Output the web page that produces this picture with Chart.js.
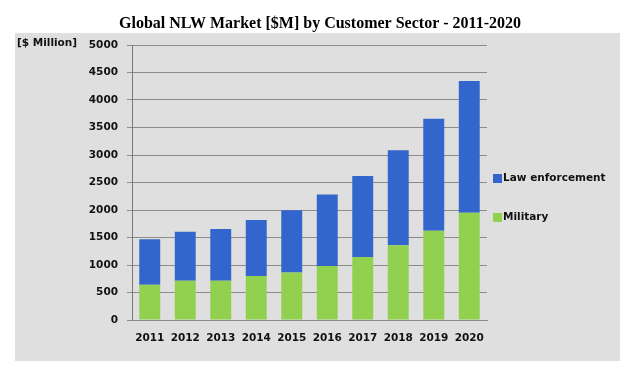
<!DOCTYPE html>
<html>
<head>
<meta charset="utf-8">
<title>Global NLW Market by Customer Sector</title>
<script src="https://cdn.jsdelivr.net/npm/chart.js@4.4.1/dist/chart.umd.min.js"></script>
<style>
  body { margin: 0; background: #fff; }
</style>
</head>
<body>
<canvas id="nlw_chart" width="640" height="374"></canvas>
<script>
const years = ['2011', '2012', '2013', '2014', '2015', '2016', '2017', '2018', '2019', '2020'];
const military = [640, 715, 715, 800, 865, 980, 1145, 1360, 1625, 1950];
const lawEnforcement = [830, 890, 940, 1020, 1130, 1300, 1475, 1725, 2035, 2395];
const yRange = [0, 5000];
const yStep = 500;
const chartTitle = 'Global NLW Market [$M] by Customer Sector - 2011-2020';

const tickFont = { family: '"DejaVu Sans"', size: 10.5, weight: 'bold' };

// grey background panel, page title and the unit label
const panel = {
  id: 'panel',
  beforeDraw(chart) {
    const c = chart.ctx;
    c.save();
    c.fillStyle = '#dfdfdf';
    c.fillRect(15, 33, 605, 328);
    c.fillStyle = '#000';
    c.textBaseline = 'middle';
    c.textAlign = 'center';
    c.font = 'bold 16px "Liberation Serif"';
    c.fillText(chartTitle, 320, 24);
    c.textAlign = 'left';
    c.fillStyle = '#111';
    c.font = 'bold 10.5px "DejaVu Sans"';
    c.fillText('[$ Million]', 17, 43);
    c.restore();
  }
};

// legend on the right, top series first
const sideLegend = {
  id: 'sideLegend',
  afterDraw(chart) {
    const c = chart.ctx;
    const items = chart.data.datasets.slice().reverse();
    c.save();
    c.font = 'bold 10.5px "DejaVu Sans"';
    c.textBaseline = 'middle';
    items.forEach((ds, i) => {
      const y = 178.5 + i * 39;
      c.fillStyle = ds.backgroundColor;
      c.fillRect(493, y - 4.5, 9, 9);
      c.fillStyle = '#111';
      c.fillText(ds.label, 503, y);
    });
    c.restore();
  }
};

const ctx = document.getElementById('nlw_chart');

new Chart(ctx, {
  type: 'bar',
  data: {
    labels: years,
    datasets: [{
      label: 'Military',
      data: military,
      backgroundColor: '#92d050',
    }, {
      label: 'Law enforcement',
      data: lawEnforcement,
      backgroundColor: '#3366cc',
    }]
  },
  options: {
    responsive: false,
    animation: false,
    layout: { padding: { left: 15, right: 153, top: 45, bottom: 24 } },
    datasets: { bar: { barPercentage: 0.59, categoryPercentage: 1 } },
    plugins: {
      legend: { display: false },
      tooltip: { enabled: false },
      title: { display: false }
    },
    scales: {
      x: {
        stacked: true,
        grid: { display: false },
        border: { color: '#8a8a8a' },
        ticks: { color: '#111', font: tickFont, padding: 4, maxRotation: 0 },
        afterFit(s) { s.height = 30; }
      },
      y: {
        stacked: true,
        min: yRange[0],
        max: yRange[1],
        ticks: {
          stepSize: yStep,
          color: '#111',
          font: tickFont,
          padding: 9,
          callback: v => String(v)
        },
        grid: { color: '#8c8c8c', tickLength: 5 },
        border: { color: '#7a7a7a' },
        afterFit(s) { s.width = 117; }
      }
    }
  },
  plugins: [panel, sideLegend]
});
</script>
</body>
</html>
